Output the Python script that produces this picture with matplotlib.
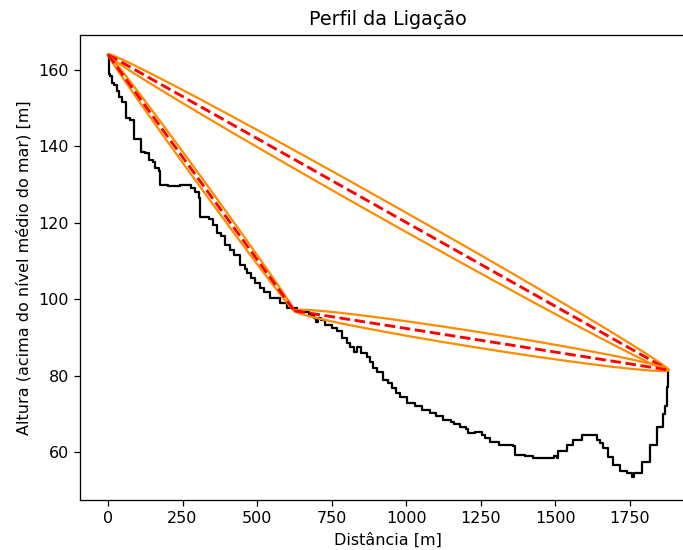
import matplotlib.pyplot as plt
import numpy as np

# terrain profile (step samples: distance [m], altitude [m])
dist = [0, 2, 8, 14, 20, 30, 36, 48, 59, 75, 87, 100, 109, 125, 137, 150, 159, 170,
        176, 200, 243, 265, 280, 293, 305, 310, 338, 352, 366, 380, 394, 408, 422,
        444, 458, 466, 480, 494, 510, 522, 545, 578, 600, 634, 673, 690, 697, 704,
        715, 729, 750, 768, 785, 801, 812, 824, 834, 845, 850, 869, 880, 890, 902,
        924, 940, 952, 966, 980, 1003, 1030, 1053, 1081, 1100, 1125, 1150, 1160,
        1181, 1200, 1209, 1232, 1254, 1265, 1282, 1310, 1360, 1366, 1400, 1427,
        1480, 1495, 1505, 1511, 1539, 1561, 1589, 1623, 1639, 1650, 1662, 1678,
        1695, 1717, 1740, 1757, 1765, 1790, 1818, 1840, 1860, 1868, 1874, 1880]
alt = [164, 159, 158.5, 156.5, 156, 154.5, 153, 151.5, 147.3, 147, 142, 141.8, 138.5,
       138.3, 136.3, 136, 134.3, 133.5, 130, 129.6, 129.8, 130, 129.2, 128, 126.5,
       121.5, 121, 119.5, 117.3, 116.5, 114.2, 113, 111.6, 109, 108, 106.8, 105.5,
       104.2, 103, 102, 100.3, 99, 97.7, 96.8, 95.9, 95, 94, 95, 94.6, 93.3, 92.5,
       91.6, 90, 88.5, 87.5, 86.3, 87.6, 87.5, 86, 85, 83.5, 82, 81, 78.9, 78, 76.7,
       75.5, 74.5, 72.8, 72, 71, 70.2, 69.5, 68.4, 68, 67.5, 66.7, 66, 65, 65.4,
       64.5, 63.8, 62.8, 61.9, 61.5, 59.3, 59, 58.4, 58.4, 59, 58.4, 60.2, 61.9,
       63.2, 64.5, 64.5, 63.2, 62.3, 61, 58.8, 56.7, 55, 54.5, 53.6, 54.5, 57.5,
       61.9, 66.7, 70, 72, 77, 81.5]

# links: start (d, h) -> end (d, h)
link_start = [(0, 164), (0, 164), (625, 97)]
link_end = [(1880, 81.5), (625, 97), (1880, 81.5)]
freq = 22e9  # Hz
lam = 3e8 / freq

dpi = 115
fig = plt.figure(figsize=(683/dpi, 550/dpi), dpi=dpi)
ax = fig.add_axes([80/683, 50/550, 616.5/683, 465.3/550])

ax.plot(dist, alt, color='black', drawstyle='steps-post', linewidth=1.4)

for (x0, y0), (x1, y1) in zip(link_start, link_end):
    D = np.hypot(x1 - x0, y1 - y0)
    t = np.linspace(0, 1, 300)
    d1 = t * D
    r = np.sqrt(lam * d1 * (D - d1) / D)
    ux, uy = (x1 - x0) / D, (y1 - y0) / D
    nx, ny = -uy, ux
    xs = x0 + t * (x1 - x0)
    ys = y0 + t * (y1 - y0)
    ax.plot(xs + nx * r, ys + ny * r, color='darkorange', linewidth=1.4)
    ax.plot(xs - nx * r, ys - ny * r, color='darkorange', linewidth=1.4)
    ax.plot([x0, x1], [y0, y1], 'r--', linewidth=1.8)

ax.set_xlim(-94, 1974)
ax.set_ylim(47.5, 169.2)
ax.set_title("Perfil da Ligação")
ax.set_xlabel("Distância [m]")
ax.set_ylabel("Altura (acima do nível médio do mar) [m]")

plt.savefig("out.png", dpi=dpi)
